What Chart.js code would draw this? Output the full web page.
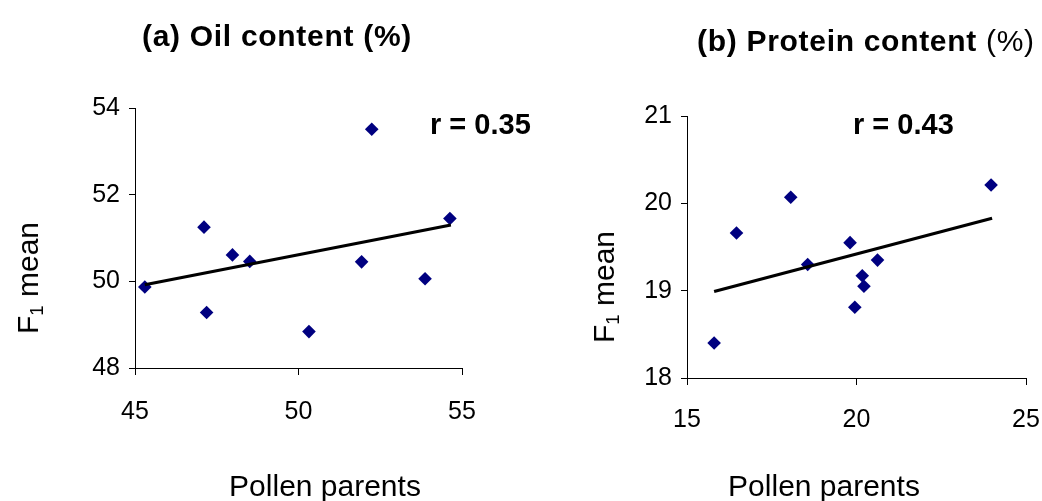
<!DOCTYPE html>
<html>
<head>
<meta charset="utf-8">
<script src="https://cdn.jsdelivr.net/npm/chart.js@4.4.1/dist/chart.umd.min.js"></script>
<style>
  html, body { margin: 0; padding: 0; background: #fff; }
  #wrap { position: relative; width: 1042px; height: 501px; overflow: hidden; font-family: "Liberation Sans", Arial, sans-serif; color: #000; }
  canvas { position: absolute; top: 0; }
  .t { position: absolute; white-space: nowrap; line-height: 1; }
  .rot { position: absolute; white-space: nowrap; line-height: 1; transform: translate(-50%, -50%) rotate(-90deg); font-size: 30px; }
  sub { font-size: 0.62em; vertical-align: -0.25em; line-height: 0; }
</style>
</head>
<body>
<div id="wrap">
  <canvas id="cA" width="520" height="501" style="left:0px"></canvas>
  <canvas id="cB" width="560" height="501" style="left:520px"></canvas>

  <div class="t" style="left:142px; top:21px; font-size:30px; font-weight:bold; letter-spacing:0.7px;">(a) Oil content (%)</div>
  <div class="t" style="left:697px; top:26px; font-size:30px; letter-spacing:0.7px;"><b>(b) Protein content</b> (%)</div>

  <div class="t" style="left:430px; top:110px; font-size:29px; font-weight:bold;">r = 0.35</div>
  <div class="t" style="left:853px; top:110px; font-size:29px; font-weight:bold;">r = 0.43</div>

  <div class="rot" style="left:28px; top:278px;">F<sub>1</sub> mean</div>
  <div class="rot" style="left:604px; top:287px;">F<sub>1</sub> mean</div>

  <div class="t" style="left:325px; top:471px; font-size:30px; transform:translateX(-50%);">Pollen parents</div>
  <div class="t" style="left:824px; top:471px; font-size:30px; transform:translateX(-50%);">Pollen parents</div>
</div>
<script>
// ---- Data ----
const oilPollen   = [45.30, 47.11, 47.19, 47.98, 48.51, 50.32, 51.93, 52.24, 53.87, 54.63];
const oilF1       = [49.87, 51.25, 49.28, 50.61, 50.46, 48.84, 50.45, 53.51, 50.06, 51.45];
const oilTrendX   = [45.30, 54.66];
const oilTrendY   = [49.92, 51.30];
const oilXTicks   = [45, 50, 55];
const oilYTicks   = [48, 50, 52, 54];

const protPollen  = [15.80, 16.46, 18.06, 18.56, 19.81, 19.95, 20.17, 20.22, 20.62, 23.97];
const protF1      = [18.40, 19.66, 20.07, 19.30, 19.55, 18.81, 19.17, 19.05, 19.35, 20.21];
const protTrendX  = [15.80, 24.00];
const protTrendY  = [18.99, 19.83];
const protXTicks  = [15, 20, 25];
const protYTicks  = [18, 19, 20, 21];

const FONT = "'Liberation Sans', Arial, sans-serif";
const NAVY = '#000080';

function pts(xs, ys) { return xs.map((x, i) => ({ x: x, y: ys[i] })); }

function makeChart(id, xs, ys, tx, ty, xt, yt, lay) {
  const axisBase = {
    border: { display: true, color: '#000', width: 1 },
    grid: { display: true, drawOnChartArea: false, drawTicks: true, tickLength: 7, color: '#000', tickColor: '#000', tickWidth: 1 },
  };
  return new Chart(document.getElementById(id), {
    type: 'scatter',
    data: {
      datasets: [
        { data: pts(tx, ty), showLine: true, borderColor: '#000', borderWidth: 3.2, pointRadius: 0, fill: false },
        { data: pts(xs, ys), pointStyle: 'rectRot', pointRadius: 6.8, backgroundColor: NAVY, borderColor: NAVY, borderWidth: 0, showLine: false }
      ]
    },
    options: {
      responsive: false, animation: false, devicePixelRatio: 1,
      layout: { padding: lay.padding },
      plugins: { legend: { display: false }, tooltip: { enabled: false } },
      scales: {
        x: Object.assign({}, axisBase, {
          type: 'linear', min: xt[0], max: xt[xt.length - 1],
          afterBuildTicks: s => { s.ticks = xt.map(v => ({ value: v })); },
          afterFit: s => { s.height = 60; },
          ticks: { font: { family: FONT, size: 25 }, color: '#000', padding: lay.xPad, maxRotation: 0 }
        }),
        y: Object.assign({}, axisBase, {
          type: 'linear', min: yt[0], max: yt[yt.length - 1],
          afterBuildTicks: s => { s.ticks = yt.map(v => ({ value: v })); },
          afterFit: s => { s.width = lay.yWidth; },
          grid: Object.assign({}, axisBase.grid, { tickLength: 6 }),
          ticks: { font: { family: FONT, size: 25 }, color: '#000', padding: 9 }
        })
      }
    }
  });
}

makeChart('cA', oilPollen, oilF1, oilTrendX, oilTrendY, oilXTicks, oilYTicks,
  { padding: { left: 0, top: 108, right: 58, bottom: 73 }, yWidth: 135, xPad: 22 });
makeChart('cB', protPollen, protF1, protTrendX, protTrendY, protXTicks, protYTicks,
  { padding: { left: 0, top: 116, right: 54, bottom: 63 }, yWidth: 167, xPad: 20 });
</script>
</body>
</html>
